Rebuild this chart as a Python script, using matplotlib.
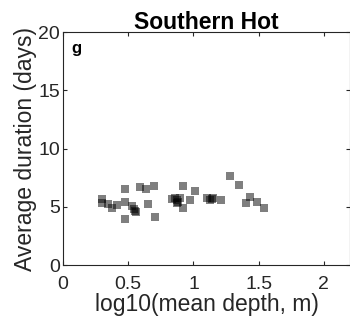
import numpy as np
import matplotlib.pyplot as plt

plt.rcParams['font.family'] = ['Liberation Sans', 'DejaVu Sans']

# log10 mean depth vs average duration
depth = [0.297, 0.297, 0.343, 0.378, 0.411, 0.475, 0.475, 0.475, 0.531,
         0.552, 0.544, 0.560, 0.590, 0.634, 0.651, 0.697, 0.707, 0.833,
         0.871, 0.884, 0.858, 0.897, 0.874, 0.917, 0.922, 0.973, 1.014,
         1.101, 1.139, 1.152, 1.126, 1.213, 1.277, 1.349, 1.400, 1.433,
         1.484, 1.538]
duration = [5.64, 5.35, 5.24, 4.87, 5.15, 6.52, 5.38, 3.92, 5.09,
            4.66, 4.81, 4.55, 6.67, 6.52, 5.21, 6.76, 4.15, 5.67,
            5.58, 5.38, 5.73, 5.73, 5.32, 6.76, 4.87, 5.58, 6.35,
            5.73, 5.67, 5.73, 5.62, 5.58, 7.61, 6.89, 5.32, 5.84,
            5.38, 4.89]

fig = plt.figure(figsize=(3.5, 3.24), dpi=100)
ax = fig.add_axes([0.18, 0.182, 0.82, 0.719])

ax.scatter(depth, duration, marker='s', s=28, color='k', alpha=0.5, linewidths=0)

ax.set_xlim(0, 2.2)
ax.set_ylim(0, 20)
ax.set_xticks([0, 0.5, 1, 1.5, 2])
ax.set_xticklabels(['0', '0.5', '1', '1.5', '2'])
ax.set_yticks([0, 5, 10, 15, 20])
ax.tick_params(direction='in', length=3, top=True, right=True, labelsize=14,
               colors='#262626', width=0.8, pad=2)
ax.tick_params(axis='x', pad=8)
for s in ax.spines.values():
    s.set_color('#262626')
    s.set_linewidth(0.8)

ax.set_xlabel('log10(mean depth, m)', fontsize=16.5, color='#262626', labelpad=0)
ax.set_ylabel('Average duration (days)', fontsize=16.5, color='#262626', labelpad=1)
ax.set_title('Southern Hot', fontsize=16.5, fontweight='bold', pad=2)
ax.text(0.03, 0.96, 'g', transform=ax.transAxes, fontsize=12, fontweight='bold',
        va='top', ha='left')

fig.savefig('out.png', dpi=100)
